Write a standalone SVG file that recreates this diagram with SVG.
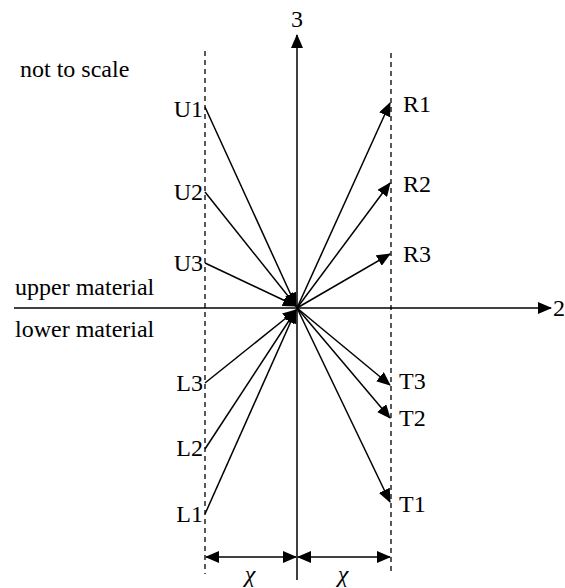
<svg xmlns="http://www.w3.org/2000/svg" width="565" height="588" viewBox="0 0 565 588">
<style>
.ln{stroke:#000;stroke-width:1.5;fill:none}
.ds{stroke:#000;stroke-width:1.3;stroke-dasharray:5,4;fill:none}
.t{font-family:'Liberation Serif','DejaVu Serif',serif;font-size:24px;fill:#000}
</style>
<defs>
<marker id="ah" markerUnits="userSpaceOnUse" markerWidth="14" markerHeight="12" refX="13" refY="6" orient="auto">
<path d="M0,0 L14,6 L0,12 Z" fill="#000"/>
</marker>
<marker id="as" markerUnits="userSpaceOnUse" markerWidth="14" markerHeight="12" refX="1" refY="6" orient="auto">
<path d="M14,0 L0,6 L14,12 Z" fill="#000"/>
</marker>
</defs>
<rect width="565" height="588" fill="#fff"/>
<g id="axes">
<line class="ln" x1="297" y1="580" x2="297" y2="35" marker-end="url(#ah)"/>
<line class="ln" x1="14" y1="308" x2="551" y2="308" marker-end="url(#ah)"/>
<text class="t" x="297" y="27" text-anchor="middle">3</text>
<text class="t" x="553" y="316">2</text>
</g>
<g id="guides">
<line class="ds" x1="205" y1="51" x2="205" y2="574"/>
<line class="ds" x1="391" y1="53" x2="391" y2="574"/>
</g>
<g id="labels">
<text class="t" x="20" y="77">not to scale</text>
<text class="t" x="15" y="295">upper material</text>
<text class="t" x="15" y="337">lower material</text>
<text class="t" x="203" y="117" text-anchor="end">U1</text>
<text class="t" x="203" y="200" text-anchor="end">U2</text>
<text class="t" x="203" y="271" text-anchor="end">U3</text>
<text class="t" x="203" y="391" text-anchor="end">L3</text>
<text class="t" x="203" y="456" text-anchor="end">L2</text>
<text class="t" x="203" y="522" text-anchor="end">L1</text>
<text class="t" x="403" y="112">R1</text>
<text class="t" x="403" y="192">R2</text>
<text class="t" x="403" y="262">R3</text>
<text class="t" x="399" y="389">T3</text>
<text class="t" x="399" y="426">T2</text>
<text class="t" x="399" y="512">T1</text>
</g>
<g id="connectors">
<line class="ln" x1="205" y1="107" x2="296" y2="306" marker-end="url(#ah)"/>
<line class="ln" x1="205" y1="192" x2="296" y2="306" marker-end="url(#ah)"/>
<line class="ln" x1="205" y1="263" x2="296" y2="306" marker-end="url(#ah)"/>
<line class="ln" x1="205" y1="383" x2="296" y2="310" marker-end="url(#ah)"/>
<line class="ln" x1="205" y1="449" x2="296" y2="310" marker-end="url(#ah)"/>
<line class="ln" x1="205" y1="514" x2="296" y2="310" marker-end="url(#ah)"/>
<line class="ln" x1="297" y1="308" x2="390" y2="103" marker-end="url(#ah)"/>
<line class="ln" x1="297" y1="308" x2="390" y2="183" marker-end="url(#ah)"/>
<line class="ln" x1="297" y1="308" x2="390" y2="254" marker-end="url(#ah)"/>
<line class="ln" x1="297" y1="308" x2="390" y2="385" marker-end="url(#ah)"/>
<line class="ln" x1="297" y1="308" x2="390" y2="418" marker-end="url(#ah)"/>
<line class="ln" x1="297" y1="308" x2="390" y2="502" marker-end="url(#ah)"/>
</g>
<g id="dimensions">
<line class="ln" x1="206" y1="557" x2="296" y2="557" marker-start="url(#as)" marker-end="url(#ah)"/>
<line class="ln" x1="298" y1="557" x2="390" y2="557" marker-start="url(#as)" marker-end="url(#ah)"/>
<text class="t" x="250" y="582" text-anchor="middle" font-style="italic">χ</text>
<text class="t" x="343" y="582" text-anchor="middle" font-style="italic">χ</text>
</g>
</svg>
